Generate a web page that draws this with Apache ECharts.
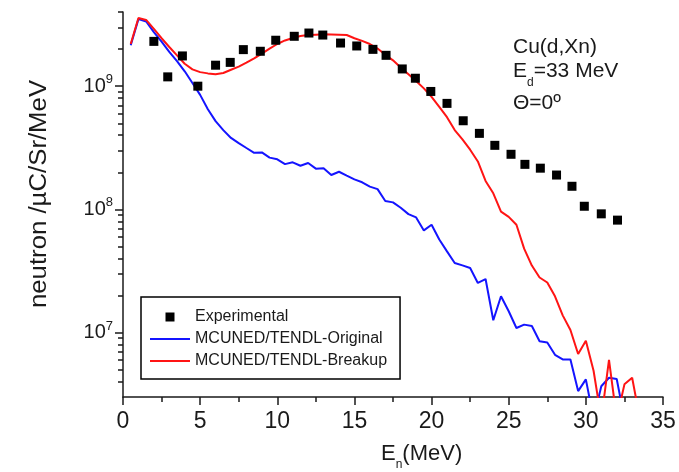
<!DOCTYPE html>
<html>
<head>
<meta charset="utf-8">
<script src="https://cdn.jsdelivr.net/npm/echarts@6/dist/echarts.min.js"></script>
<style>
  html, body { margin: 0; padding: 0; background: #fff; }
  #chart { width: 679px; height: 472px; }
</style>
</head>
<body>
<div id="chart"></div>
<script>
// Measured neutron yield, Cu(d,Xn) at Ed = 33 MeV, 0 degrees
const expEnergy = [2.0, 2.9, 3.85, 4.85, 6.0, 6.95, 7.8, 8.9, 9.9,
  11.1, 12.05, 12.95, 14.1, 15.15, 16.2, 17.05, 18.1, 18.95, 19.95, 21.0,
  22.05, 23.1, 24.1, 25.15, 26.05, 27.05, 28.1, 29.1, 29.9, 31.0, 32.05];
const expYield = [2.31e9, 1.19e9, 1.76e9, 1.0e9, 1.48e9, 1.56e9, 1.98e9, 1.92e9, 2.36e9,
  2.54e9, 2.70e9, 2.60e9, 2.24e9, 2.12e9, 1.99e9, 1.78e9, 1.38e9, 1.16e9, 9.06e8, 7.25e8,
  5.24e8, 4.14e8, 3.31e8, 2.80e8, 2.32e8, 2.16e8, 1.90e8, 1.54e8, 1.06e8, 9.2e7, 8.18e7];

// Simulation energy grid (MeV)
const simEnergy = [0.5, 1.0, 1.5, 2.0, 2.5, 3.0, 3.5, 4.0, 4.5, 5.0, 5.5, 6.0, 6.5, 7.0, 7.5,
  8.0, 8.5, 9.0, 9.5, 10.0, 10.5, 11.0, 11.5, 12.0, 12.5, 13.0, 13.5, 14.0, 14.5, 15.0,
  15.5, 16.0, 16.5, 17.0, 17.5, 18.0, 18.5, 19.0, 19.5, 20.0, 20.5, 21.0, 21.5, 22.0,
  22.5, 23.0, 23.5, 24.0, 24.5, 25.0, 25.5, 26.0, 26.5, 27.0, 27.5, 28.0, 28.5, 29.0,
  29.5, 30.0, 30.5, 31.0, 31.5, 32.0, 32.5, 33.0, 33.5];

// MCUNED/TENDL-Original
const originalYield = [2.15e9, 3.5e9, 3.35e9, 2.75e9, 2.3e9, 1.9e9, 1.6e9, 1.32e9, 1.06e9,
  8.5e8, 6.5e8, 5.2e8, 4.4e8, 3.8e8, 3.45e8, 3.15e8, 2.88e8, 2.9e8, 2.63e8, 2.55e8,
  2.33e8, 2.41e8, 2.26e8, 2.38e8, 2.14e8, 2.16e8, 1.9e8, 2.02e8, 1.88e8, 1.75e8,
  1.66e8, 1.53e8, 1.46e8, 1.17e8, 1.14e8, 1.03e8, 9.15e7, 8.6e7, 6.75e7, 7.5e7,
  5.7e7, 4.56e7, 3.67e7, 3.51e7, 3.34e7, 2.53e7, 2.72e7, 1.26e7, 1.97e7, 1.49e7,
  1.09e7, 1.16e7, 1.13e7, 8.5e6, 8.3e6, 6.6e6, 6.05e6, 6.05e6, 3.35e6, 4.17e6,
  2.0e6, 3.67e6, 4.3e6, 4.2e6, 2.0e6];

// MCUNED/TENDL-Breakup
const breakupYield = [2.2e9, 3.57e9, 3.45e9, 2.92e9, 2.45e9, 2.08e9, 1.78e9, 1.52e9, 1.37e9,
  1.3e9, 1.27e9, 1.25e9, 1.28e9, 1.36e9, 1.44e9, 1.55e9, 1.68e9, 1.84e9, 2.02e9, 2.2e9,
  2.35e9, 2.46e9, 2.55e9, 2.6e9, 2.62e9, 2.64e9, 2.63e9, 2.62e9, 2.6e9, 2.45e9,
  2.33e9, 2.2e9, 2.02e9, 1.8e9, 1.62e9, 1.42e9, 1.25e9, 1.1e9, 9.6e8, 8.2e8,
  6.8e8, 5.6e8, 4.4e8, 3.7e8, 3.05e8, 2.45e8, 1.7e8, 1.35e8, 9.6e7, 8.7e7,
  7.5e7, 4.8e7, 3.5e7, 2.8e7, 2.55e7, 1.97e7, 1.38e7, 1.05e7, 6.7e6, 8.6e6,
  4.9e6, 2.0e6, 6.0e6, 2.0e6, 3.8e6, 4.3e6, 2.0e6];

// Axis ticks
const xTicks = [0, 5, 10, 15, 20, 25, 30, 35];
const yMajorTicks = [1e7, 1e8, 1e9];
const yMinorTicks = [4e6, 5e6, 6e6, 7e6, 8e6, 9e6,
  2e7, 3e7, 4e7, 5e7, 6e7, 7e7, 8e7, 9e7,
  2e8, 3e8, 4e8, 5e8, 6e8, 7e8, 8e8, 9e8,
  2e9, 3e9, 4e9];

const seriesNames = ['Experimental', 'MCUNED/TENDL-Original', 'MCUNED/TENDL-Breakup'];

const FONT = "'Liberation Sans', Arial, Helvetica, sans-serif";
const INK = '#1a1a1a';

// Legend glyphs: a small filled square and a plain line stroke
const SQUARE_ICON = 'path://M0,0 L10,0 L10,10 L0,10 Z';
const LINE_ICON = 'path://M0,0 L40,0 L40,2 L0,2 Z';

const pairs = (xs, ys) => ys.map((y, i) => [xs[i], y]);

const chart = echarts.init(document.getElementById('chart'), null, { renderer: 'canvas' });

chart.setOption({
  animation: false,
  backgroundColor: '#ffffff',
  textStyle: { fontFamily: FONT, color: INK },
  grid: { left: 123, right: 16, top: 12, bottom: 75, containLabel: false, outerBoundsMode: 'none' },
  xAxis: {
    type: 'value',
    min: 0, max: 35, interval: 5,
    axisLine: { lineStyle: { color: INK, width: 1.5 } },
    axisTick: { show: true, inside: false, length: 8, lineStyle: { color: INK, width: 1.5 } },
    minorTick: { show: true, splitNumber: 2, length: 5, lineStyle: { color: INK, width: 1.5 } },
    axisLabel: { fontSize: 23, color: INK, margin: 13, fontFamily: FONT, customValues: xTicks },
    splitLine: { show: false },
    minorSplitLine: { show: false }
  },
  yAxis: [{
    type: 'log',
    logBase: 10,
    min: 3e6, max: 4e9,
    axisLine: { show: true, lineStyle: { color: INK, width: 1.5 } },
    axisTick: { show: true, inside: false, length: 8, lineStyle: { color: INK, width: 1.5 }, customValues: yMajorTicks },
    axisLabel: {
      margin: 10,
      customValues: yMajorTicks,
      formatter: function (v) {
        const e = Math.round(Math.log10(v));
        return '{b|10}{sup|' + e + '}';
      },
      rich: {
        b: { fontSize: 20, lineHeight: 26, color: INK, fontFamily: FONT },
        sup: { fontSize: 13, lineHeight: 14, verticalAlign: 'top', color: INK, fontFamily: FONT }
      }
    },
    splitLine: { show: false }
  }, {
    type: 'log',
    logBase: 10,
    min: 3e6, max: 4e9,
    position: 'left',
    axisLine: { show: false },
    axisTick: { show: true, inside: false, length: 5, lineStyle: { color: INK, width: 1.5 }, customValues: yMinorTicks },
    axisLabel: { show: false },
    splitLine: { show: false }
  }],
  legend: {
    orient: 'vertical',
    left: 141, top: 297,
    borderColor: '#000', borderWidth: 1.5,
    padding: [12, 13, 10, 9],
    itemWidth: 40, itemHeight: 9, itemGap: 6,
    symbolKeepAspect: true,
    textStyle: { fontSize: 16, color: INK, fontFamily: FONT },
    data: [
      { name: seriesNames[0], icon: SQUARE_ICON },
      { name: seriesNames[1], icon: LINE_ICON },
      { name: seriesNames[2], icon: LINE_ICON }
    ]
  },
  graphic: [{
    // vertical axis title
    type: 'text', x: 40, y: 194, rotation: Math.PI / 2, scaleX: 1.12,
    style: {
      text: 'neutron /µC/Sr/MeV', fontSize: 23, fill: INK, fontFamily: FONT,
      align: 'center', verticalAlign: 'middle'
    }
  }, {
    type: 'text', left: 513, top: 37,
    style: { text: 'Cu(d,Xn)', fontSize: 21, fill: INK, fontFamily: FONT }
  }, {
    type: 'text', left: 513, top: 61,
    style: {
      text: '{a|E}{s|d}{a|=33 MeV}',
      fontFamily: FONT, fill: INK,
      rich: {
        a: { fontSize: 21, fill: INK, fontFamily: FONT, verticalAlign: 'top', lineHeight: 24 },
        s: { fontSize: 12, fill: INK, fontFamily: FONT, verticalAlign: 'top', padding: [16, 0, 0, 0], lineHeight: 14 }
      }
    }
  }, {
    type: 'text', left: 513, top: 93,
    style: { text: 'Θ=0º', fontSize: 21, fill: INK, fontFamily: FONT }
  }, {
    type: 'text', left: 381, top: 443,
    style: {
      text: '{a|E}{s|n}{a|(MeV)}',
      fontFamily: FONT, fill: INK,
      rich: {
        a: { fontSize: 22, fill: INK, fontFamily: FONT, verticalAlign: 'top', lineHeight: 25 },
        s: { fontSize: 12, fill: INK, fontFamily: FONT, verticalAlign: 'top', padding: [16, 0, 0, 0], lineHeight: 14 }
      }
    }
  }],
  series: [{
    name: seriesNames[0],
    type: 'scatter',
    symbol: 'rect',
    symbolSize: 9,
    itemStyle: { color: '#000', opacity: 1 },
    data: pairs(expEnergy, expYield),
    z: 5
  }, {
    name: seriesNames[1],
    type: 'line',
    symbol: 'none',
    clip: true,
    lineStyle: { color: '#1414ff', width: 2 },
    itemStyle: { color: '#1414ff' },
    data: pairs(simEnergy, originalYield)
  }, {
    name: seriesNames[2],
    type: 'line',
    symbol: 'none',
    clip: true,
    lineStyle: { color: '#ff1414', width: 2 },
    itemStyle: { color: '#ff1414' },
    data: pairs(simEnergy, breakupYield)
  }]
});
</script>
</body>
</html>
